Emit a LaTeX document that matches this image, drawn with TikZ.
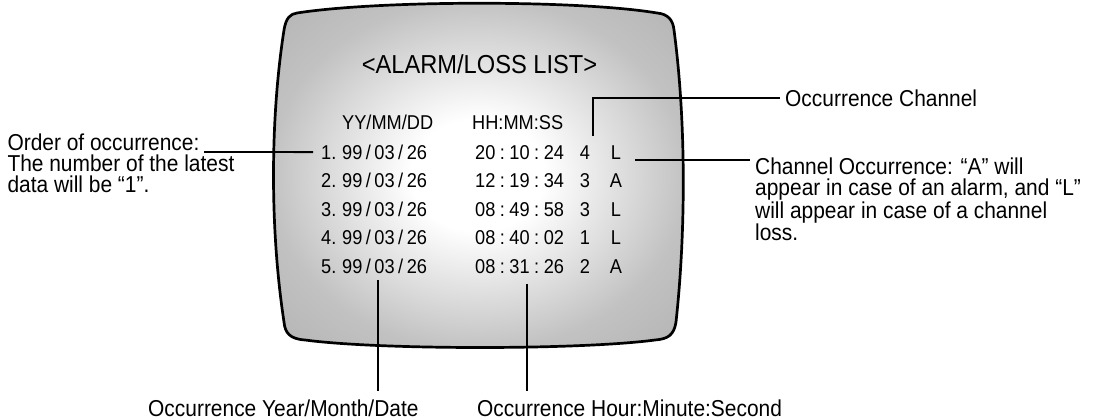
\documentclass[tikz,border=0pt]{standalone}
\usepackage{fontspec}
\newfontfamily\arial{Liberation Sans}[FakeStretch=0.91]

\pgfdeclareradialshading{glow}{\pgfpoint{0bp}{0bp}}{color(0bp)=(white); color(8bp)=(white); color(25bp)=(black!24); color(50bp)=(black!38)}
\tikzset{
  screen/.style={line width=2.7pt, shading=glow},
  lead/.style={line width=1.8pt},
  lbl/.style={font=\arial\fontsize{23}{21.3}\selectfont, inner sep=0pt, align=left},
  cell/.style={font=\arial\fontsize{20}{24}\selectfont, inner sep=0pt},
}
\newcommand\ymd{99\kern3.5pt/\kern3.5pt03\kern3.5pt/\kern3.5pt26}
\newcommand\hms[3]{#1\kern4.5pt:\kern4.5pt#2\kern4.5pt:\kern4.5pt#3}

\begin{document}
\begin{tikzpicture}[x=1pt,y=-1pt]
\useasboundingbox (0,0) rectangle (1105,420);
% monitor screen
\shadedraw[screen] (297,13) .. controls (380,0) and (580,0) .. (657,13)
  .. controls (668,14) and (673,20) .. (674,30)
  .. controls (686,120) and (686,230) .. (676,322)
  .. controls (674,335) and (668,339) .. (655,340)
  .. controls (580,350) and (380,350) .. (305,340)
  .. controls (290,339) and (285,333) .. (284,322)
  .. controls (270,230) and (270,120) .. (284,30)
  .. controls (286,18) and (290,14) .. (297,13) -- cycle;

\node[cell, font=\arial\fontsize{26}{30}\selectfont, anchor=base] (title) at (479.5,73.3) {<ALARM/LOSS LIST>};
\node[cell, anchor=base west] (hdate) at (342,129.6) {YY/MM/DD};
\node[cell, anchor=base west] (htime) at (472,129.6) {HH:MM:SS};

\foreach \h/\m/\s/\c/\t [count=\i] in {20/10/24/4/L, 12/19/34/3/A, 08/49/58/3/L, 08/40/02/1/L, 08/31/26/2/A} {
  \node[cell, anchor=base west] (num\i) at (321,{159+28.5*(\i-1)}) {\i.};
  \node[cell, anchor=base west] (dt\i) at (342,{159+28.5*(\i-1)}) {\ymd};
  \node[cell, anchor=base west] (tm\i) at (475,{159+28.5*(\i-1)}) {\hms{\h}{\m}{\s}};
  \node[cell, anchor=base] (ch\i) at (585,{159+28.5*(\i-1)}) {\c};
  \node[cell, anchor=base] (ty\i) at (616,{159+28.5*(\i-1)}) {\t};
}

% labels
\node[lbl, anchor=north west] (ordlab) at (7.3,133.5) {Order of occurrence:\\The number of the latest\\data will be “1”.};
\node[lbl, anchor=base west] (chlab) at (785,106) {Occurrence Channel};
\node[lbl, anchor=north west] (tylab) at (755,157.5) {Channel Occurrence: “A” will\\appear in case of an alarm, and “L”\\will appear in case of a channel\\loss.};
\node[lbl, anchor=base west] (ymdlab) at (148,416) {Occurrence Year/Month/Date};
\node[lbl, anchor=base west] (hmslab) at (477,416) {Occurrence Hour:Minute:Second};

% leader lines
\coordinate (ordtip) at (204,152);
\coordinate (tytip) at (635,160);
\coordinate (ymdtop) at (378,280);
\coordinate (hmstop) at (527,284);
\draw[lead] ([xshift=-8pt]num1.west) -- (ordtip);
\draw[lead, shorten >=5pt] ([xshift=8pt,yshift=9pt]ch1.north) |- (chlab.west);
\draw[lead, shorten >=5pt] (tytip) -- (tytip -| tylab.west);
\draw[lead, shorten >=8.5pt] (ymdtop) -- (ymdtop |- ymdlab.north);
\draw[lead, shorten >=8.5pt] (hmstop) -- (hmstop |- hmslab.north);
\end{tikzpicture}
\end{document}
